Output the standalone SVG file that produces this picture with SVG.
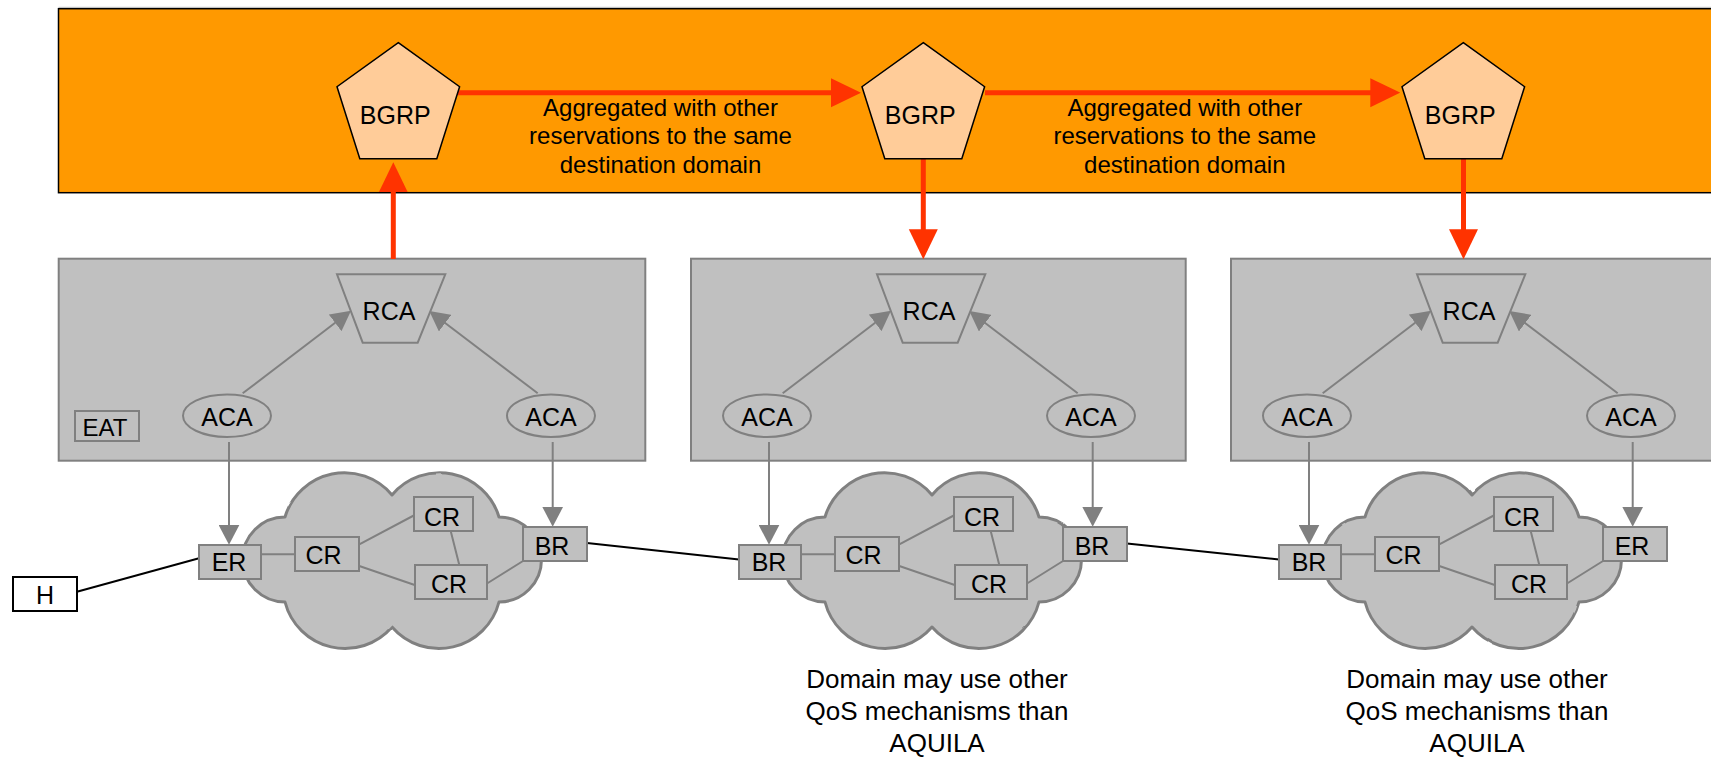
<svg xmlns="http://www.w3.org/2000/svg" xmlns:xlink="http://www.w3.org/1999/xlink" width="1711" height="757" viewBox="0 0 1711 757">
  <style>
    text { font-family: "Liberation Sans", Arial, sans-serif; fill: #000; text-anchor: middle; }
    .lbl { font-size: 25px; }
    .cap { font-size: 24px; }
    .note { font-size: 26px; }
    .band { fill: #ff9900; stroke: #000; stroke-width: 1.5; }
    .bgrp { fill: #ffcc99; stroke: #000; stroke-width: 1.5; }
    .domain { fill: #c0c0c0; stroke: #808080; stroke-width: 2; }
    .cloud { fill: #c0c0c0; stroke: #808080; stroke-width: 3; stroke-linejoin: round; }
    .gnode { fill: #c0c0c0; stroke: #808080; stroke-width: 2; }
    .host { fill: #fff; stroke: #000; stroke-width: 2; }
    .link { fill: none; stroke: #808080; stroke-width: 2; }
    .garrow { fill: none; stroke: #808080; stroke-width: 2; marker-end: url(#arrGray); }
    .wire { fill: none; stroke: #000; stroke-width: 2; }
    .rarrow { fill: none; stroke: #ff3300; stroke-width: 5; marker-end: url(#arrRed); }
  </style>
  <defs>
    <marker id="arrGray" viewBox="0 0 20 21" refX="10" refY="10.5" markerWidth="20" markerHeight="21" markerUnits="userSpaceOnUse" orient="auto">
      <path d="M0,0 L20,10.5 L0,21 Z" fill="#808080"/>
    </marker>
    <marker id="arrRed" viewBox="0 0 30 30" refX="15" refY="15" markerWidth="30" markerHeight="30" markerUnits="userSpaceOnUse" orient="auto">
      <path d="M0,0.5 L30,15 L0,29.5 Z" fill="#ff3300"/>
    </marker>
    <!-- slight hand-drawn ripple on the cloud outline -->
    <filter id="ripple" x="-10%" y="-10%" width="120%" height="120%">
      <feTurbulence type="fractalNoise" baseFrequency="0.06" numOctaves="1" seed="3" result="noise"/>
      <feDisplacementMap in="SourceGraphic" in2="noise" scale="2" xChannelSelector="R" yChannelSelector="G"/>
    </filter>
    <!-- cloud outline centred on (0,0) -->
    <path id="cloudShape" class="cloud" d="M-107,-43 A62,62 0 0,1 0,-65 A62,62 0 0,1 107,-43 A42.5,42.5 0 0,1 107,42 A62,62 0 0,1 0,67 A62,62 0 0,1 -107,42 A42.5,42.5 0 0,1 -107,-43 Z"/>
    <!-- pentagon centred on x=0 -->
    <polygon id="pentShape" class="bgrp" points="0,42.7 61.3,86.7 38.5,158.7 -38.5,158.7 -61.3,86.7"/>
    <!-- RCA trapezoid, domain 1 position -->
    <polygon id="rcaShape" class="gnode" points="337,274.3 445.3,274.3 417.7,342.7 362.7,342.7"/>
  </defs>

  <!-- inter-domain BGRP layer -->
  <g id="bgrp-layer">
    <line x1="58.5" y1="7.3" x2="1711" y2="7.3" stroke="#c4c4c4" stroke-width="1"/>
    <rect class="band" x="58.5" y="8.7" width="1670" height="184"/>
  </g>

  <!-- domain containers -->
  <g id="domain1"><rect class="domain" x="58.7" y="258.7" width="586.6" height="202"/></g>
  <g id="domain2"><rect class="domain" x="691" y="258.7" width="494.7" height="202"/></g>
  <g id="domain3"><rect class="domain" x="1231" y="258.7" width="500" height="202"/></g>

  <!-- core networks -->
  <g id="cloud1" filter="url(#ripple)"><use xlink:href="#cloudShape" transform="translate(392,560)"/></g>
  <g id="cloud2" filter="url(#ripple)"><use xlink:href="#cloudShape" transform="translate(932,560)"/></g>
  <g id="cloud3" filter="url(#ripple)"><use xlink:href="#cloudShape" transform="translate(1472,560)"/></g>

  <!-- connectors -->
  <g id="connectors">
    <!-- BGRP signalling -->
    <path class="rarrow" d="M393.3,259 V177.3"/>
    <path class="rarrow" d="M458,92.7 H846"/>
    <path class="rarrow" d="M923.3,158.7 V244.3"/>
    <path class="rarrow" d="M985,92.7 H1385.3"/>
    <path class="rarrow" d="M1463.5,158.7 V244.3"/>

    <!-- domain 1 -->
    <path class="garrow" d="M242.7,393.3 L343.05,316.76"/>
    <path class="garrow" d="M537.7,393.3 L437.27,317.05"/>
    <path class="garrow" d="M229,442 V534.7"/>
    <path class="garrow" d="M552.7,442 V516.7"/>
    <path class="link" d="M261,554.3 H295 M359.3,544.3 L414.7,515 M359.3,566 L414.7,585 M450.7,531 L459.3,565 M487,583.5 L523,561"/>

    <!-- domain 2 -->
    <path class="garrow" d="M782.7,393.3 L883.05,316.76"/>
    <path class="garrow" d="M1077.7,393.3 L977.27,317.05"/>
    <path class="garrow" d="M769,442 V534.7"/>
    <path class="garrow" d="M1092.7,442 V516.7"/>
    <path class="link" d="M801,554.3 H835 M899.3,544.3 L954.7,515 M899.3,566 L954.7,585 M990.7,531 L999.3,565 M1027,583.5 L1063,561"/>

    <!-- domain 3 -->
    <path class="garrow" d="M1322.7,393.3 L1423.05,316.76"/>
    <path class="garrow" d="M1617.7,393.3 L1517.27,317.05"/>
    <path class="garrow" d="M1309,442 V534.7"/>
    <path class="garrow" d="M1632.7,442 V516.7"/>
    <path class="link" d="M1341,554.3 H1375 M1439.3,544.3 L1494.7,515 M1439.3,566 L1494.7,585 M1530.7,531 L1539.3,565 M1567,583.5 L1603,561"/>

    <!-- physical links -->
    <path class="wire" d="M76,592 L199,558.3"/>
    <path class="wire" d="M587,543 L739,559.5"/>
    <path class="wire" d="M1127,543.5 L1279,559.5"/>
  </g>

  <!-- BGRP agents -->
  <g id="bgrp1"><use xlink:href="#pentShape" x="398.3"/><text class="lbl" x="395.3" y="124.3">BGRP</text></g>
  <g id="bgrp2"><use xlink:href="#pentShape" x="923.3"/><text class="lbl" x="920.3" y="124.3">BGRP</text></g>
  <g id="bgrp3"><use xlink:href="#pentShape" x="1463.3"/><text class="lbl" x="1460.3" y="124.3">BGRP</text></g>

  <g id="agg-note1">
    <text class="cap" x="660.5" y="116">Aggregated with other</text>
    <text class="cap" x="660.5" y="144.4">reservations to the same</text>
    <text class="cap" x="660.5" y="172.8">destination domain</text>
  </g>
  <g id="agg-note2">
    <text class="cap" x="1184.8" y="116">Aggregated with other</text>
    <text class="cap" x="1184.8" y="144.4">reservations to the same</text>
    <text class="cap" x="1184.8" y="172.8">destination domain</text>
  </g>

  <!-- domain 1 nodes -->
  <g id="rca1"><use xlink:href="#rcaShape"/><text class="lbl" x="389" y="319.8">RCA</text></g>
  <g id="aca1a"><ellipse class="gnode" cx="227" cy="415.7" rx="44" ry="21.3"/><text class="lbl" x="227" y="426.3">ACA</text></g>
  <g id="aca1b"><ellipse class="gnode" cx="551" cy="415.7" rx="44" ry="21.3"/><text class="lbl" x="551" y="426.3">ACA</text></g>
  <g id="eat1"><rect class="gnode" x="75" y="411" width="64" height="30"/><text class="cap" x="105" y="435.5">EAT</text></g>
  <g id="er1"><rect class="gnode" x="199" y="545" width="62" height="34"/><text class="lbl" x="229" y="571.3">ER</text></g>
  <g id="cr1a"><rect class="gnode" x="295" y="537" width="64" height="34"/><text class="lbl" x="323.5" y="563.6">CR</text></g>
  <g id="cr1b"><rect class="gnode" x="414" y="497" width="59" height="34"/><text class="lbl" x="442" y="525.6">CR</text></g>
  <g id="cr1c"><rect class="gnode" x="415" y="565" width="72" height="34"/><text class="lbl" x="449" y="593">CR</text></g>
  <g id="br1"><rect class="gnode" x="523" y="527" width="64" height="34"/><text class="lbl" x="552" y="554.8">BR</text></g>
  <g id="host"><rect class="host" x="13" y="577" width="64" height="34"/><text class="lbl" x="45" y="603.6">H</text></g>

  <!-- domain 2 nodes -->
  <g id="rca2"><use xlink:href="#rcaShape" x="540"/><text class="lbl" x="929" y="319.8">RCA</text></g>
  <g id="aca2a"><ellipse class="gnode" cx="767" cy="415.7" rx="44" ry="21.3"/><text class="lbl" x="767" y="426.3">ACA</text></g>
  <g id="aca2b"><ellipse class="gnode" cx="1091" cy="415.7" rx="44" ry="21.3"/><text class="lbl" x="1091" y="426.3">ACA</text></g>
  <g id="br2a"><rect class="gnode" x="739" y="545" width="62" height="34"/><text class="lbl" x="769" y="571.3">BR</text></g>
  <g id="cr2a"><rect class="gnode" x="835" y="537" width="64" height="34"/><text class="lbl" x="863.5" y="563.6">CR</text></g>
  <g id="cr2b"><rect class="gnode" x="954" y="497" width="59" height="34"/><text class="lbl" x="982" y="525.6">CR</text></g>
  <g id="cr2c"><rect class="gnode" x="955" y="565" width="72" height="34"/><text class="lbl" x="989" y="593">CR</text></g>
  <g id="br2b"><rect class="gnode" x="1063" y="527" width="64" height="34"/><text class="lbl" x="1092" y="554.8">BR</text></g>
  <g id="qos-note2">
    <text class="note" x="937" y="688.3">Domain may use other</text>
    <text class="note" x="937" y="720">QoS mechanisms than</text>
    <text class="note" x="937" y="751.7">AQUILA</text>
  </g>

  <!-- domain 3 nodes -->
  <g id="rca3"><use xlink:href="#rcaShape" x="1080"/><text class="lbl" x="1469" y="319.8">RCA</text></g>
  <g id="aca3a"><ellipse class="gnode" cx="1307" cy="415.7" rx="44" ry="21.3"/><text class="lbl" x="1307" y="426.3">ACA</text></g>
  <g id="aca3b"><ellipse class="gnode" cx="1631" cy="415.7" rx="44" ry="21.3"/><text class="lbl" x="1631" y="426.3">ACA</text></g>
  <g id="br3"><rect class="gnode" x="1279" y="545" width="62" height="34"/><text class="lbl" x="1309" y="571.3">BR</text></g>
  <g id="cr3a"><rect class="gnode" x="1375" y="537" width="64" height="34"/><text class="lbl" x="1403.5" y="563.6">CR</text></g>
  <g id="cr3b"><rect class="gnode" x="1494" y="497" width="59" height="34"/><text class="lbl" x="1522" y="525.6">CR</text></g>
  <g id="cr3c"><rect class="gnode" x="1495" y="565" width="72" height="34"/><text class="lbl" x="1529" y="593">CR</text></g>
  <g id="er3"><rect class="gnode" x="1603" y="527" width="64" height="34"/><text class="lbl" x="1632" y="554.8">ER</text></g>
  <g id="qos-note3">
    <text class="note" x="1477" y="688.3">Domain may use other</text>
    <text class="note" x="1477" y="720">QoS mechanisms than</text>
    <text class="note" x="1477" y="751.7">AQUILA</text>
  </g>
</svg>
